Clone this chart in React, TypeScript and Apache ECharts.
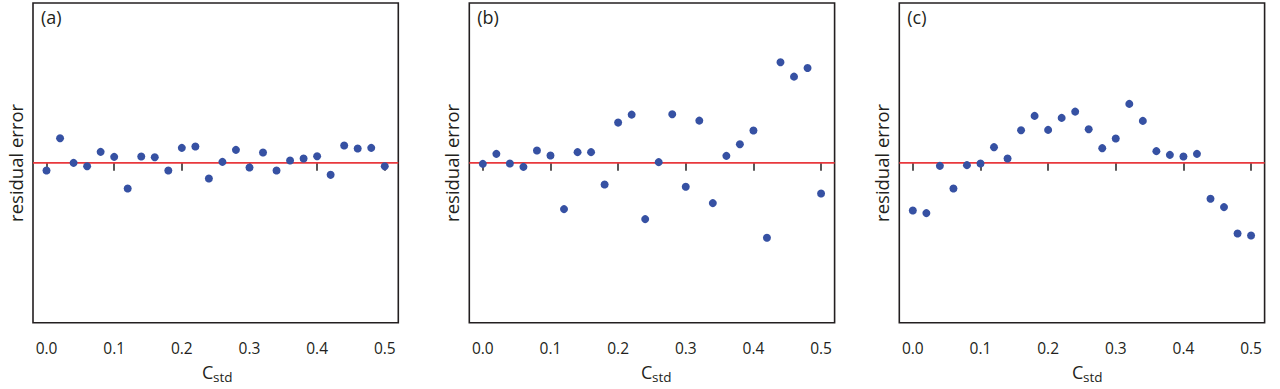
import React, { useEffect, useRef } from "react";
import * as echarts from "echarts";

const xValues = [0, 0.02, 0.04, 0.06, 0.08, 0.1, 0.12, 0.14, 0.16, 0.18, 0.2, 0.22, 0.24, 0.26, 0.28, 0.3, 0.32, 0.34, 0.36, 0.38, 0.4, 0.42, 0.44, 0.46, 0.48, 0.5];
const tickValues = [0, 0.1, 0.2, 0.3, 0.4, 0.5];
const tickLabels = ["0.0", "0.1", "0.2", "0.3", "0.4", "0.5"];
const panelLabels = ["(a)", "(b)", "(c)"];
const xRange = [-0.02, 0.52];
const zeroLine = [0, 0];

const residualA = [-0.077, 0.246, 0, -0.034, 0.11, 0.06, -0.257, 0.063, 0.056, -0.077, 0.15, 0.163, -0.157, 0.01, 0.13, -0.047, 0.103, -0.077, 0.023, 0.043, 0.066, -0.12, 0.173, 0.143, 0.15, -0.034];
const residualB = [-0.01, 0.09, -0.007, -0.04, 0.123, 0.073, -0.463, 0.107, 0.107, -0.217, 0.403, 0.483, -0.563, 0.007, 0.487, -0.24, 0.423, -0.403, 0.07, 0.187, 0.323, -0.75, 1.007, 0.863, 0.95, -0.307];
const residualC = [-0.477, -0.503, -0.03, -0.257, -0.023, -0.007, 0.157, 0.043, 0.327, 0.47, 0.33, 0.45, 0.513, 0.337, 0.147, 0.243, 0.59, 0.42, 0.117, 0.08, 0.063, 0.09, -0.36, -0.443, -0.707, -0.727];

const panels = [residualA, residualB, residualC];

const FONT = "Open Sans";
const INK = "#231f20";
const DOT = "#3651a3";
const RED = "#e8383d";

const gridLefts = [33, 469.3, 899.3];
const nameCenters = [216, 655, 1086];
const GRID_W = 365.3;
const GRID_TOP = 3;
const GRID_H = 319.7;

export default function App() {
  const ref = useRef<HTMLDivElement>(null);

  useEffect(() => {
    if (!ref.current) return;
    const chart = echarts.init(ref.current, undefined, { renderer: "svg" });

    const grids = gridLefts.map((left) => ({
      left,
      top: GRID_TOP,
      width: GRID_W,
      height: GRID_H,
      show: true,
      borderColor: INK,
      borderWidth: 1.6,
      backgroundColor: "transparent",
      containLabel: false,
    }));

    const xAxes = panels.map((_, i) => ({
      type: "value",
      gridIndex: i,
      min: xRange[0],
      max: xRange[1],
      axisLine: { show: false },
      splitLine: { show: false },
      axisTick: {
        show: true,
        inside: false,
        length: 8,
        customValues: tickValues,
        lineStyle: { color: INK, width: 1.5 },
      },
      axisLabel: {
        show: true,
        customValues: tickValues,
        margin: 17,
        fontFamily: FONT,
        fontSize: 15.5,
        color: INK,
        formatter: (v: number) => {
          const idx = tickValues.findIndex((t) => Math.abs(t - v) < 1e-9);
          return idx >= 0 ? tickLabels[idx] : "";
        },
      },
    }));

    const yAxes = panels.map((_, i) => ({
      type: "value",
      gridIndex: i,
      min: -1.6,
      max: 1.6,
      axisLine: { show: false },
      axisTick: { show: false },
      axisLabel: { show: false },
      splitLine: { show: false },
      name: "residual error",
      nameLocation: "middle",
      nameRotate: 90,
      nameGap: 8,
      nameTextStyle: { fontFamily: FONT, fontSize: 18.5, color: INK },
    }));

    const series: any[] = [];
    panels.forEach((vals, i) => {
      series.push({
        type: "line",
        xAxisIndex: i,
        yAxisIndex: i,
        symbol: "none",
        silent: true,
        lineStyle: { color: RED, width: 1.8 },
        data: xRange.map((x, j) => [x, zeroLine[j]]),
        z: 1,
      });
      series.push({
        type: "scatter",
        xAxisIndex: i,
        yAxisIndex: i,
        symbol: "circle",
        symbolSize: 8,
        itemStyle: { color: DOT, opacity: 1 },
        data: xValues.map((x, j) => [x, vals[j]]),
        z: 3,
      });
    });

    const graphics: any[] = [];
    panelLabels.forEach((t, i) => {
      graphics.push({
        type: "text",
        x: gridLefts[i] + 8,
        y: 17,
        style: { text: t, fontFamily: FONT, fontSize: 18, fill: INK, verticalAlign: "middle", align: "left" },
      });
      graphics.push({
        type: "text",
        x: nameCenters[i] - 14,
        y: 372,
        style: { text: "C", fontFamily: FONT, fontSize: 18, fill: INK, verticalAlign: "middle", align: "left" },
      });
      graphics.push({
        type: "text",
        x: nameCenters[i] - 3,
        y: 377,
        style: { text: "std", fontFamily: FONT, fontSize: 13.5, fill: INK, verticalAlign: "middle", align: "left" },
      });
    });

    chart.setOption({
      animation: false,
      backgroundColor: "#ffffff",
      grid: grids,
      xAxis: xAxes,
      yAxis: yAxes,
      series,
      graphic: graphics,
    });

    return () => chart.dispose();
  }, []);

  return (
    <div
      ref={ref}
      style={{ position: "absolute", left: 0, top: 0, width: 1280, height: 389 }}
    />
  );
}
